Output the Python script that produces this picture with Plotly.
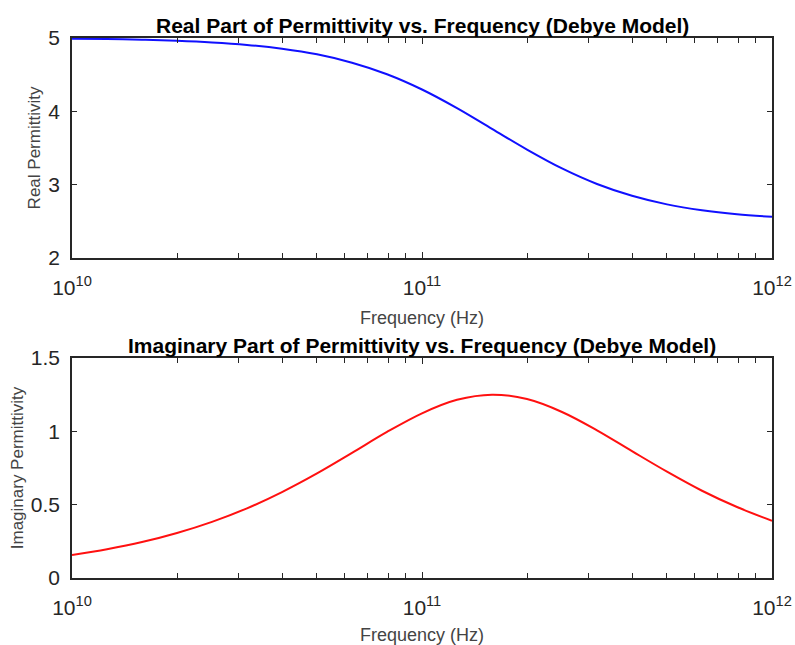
import plotly.graph_objects as go

# log10 of frequency (Hz)
log_freq = [10.0, 10.1, 10.2, 10.3, 10.4, 10.5, 10.6, 10.7, 10.8, 10.9, 11.0,
            11.1, 11.2, 11.3, 11.4, 11.5, 11.6, 11.7, 11.8, 11.9, 12.0]
real_perm = [4.99, 4.985, 4.976, 4.962, 4.94, 4.906, 4.854, 4.777, 4.663, 4.506, 4.298,
             4.044, 3.761, 3.478, 3.221, 3.009, 2.848, 2.731, 2.651, 2.597, 2.562]
imag_perm = [0.156, 0.196, 0.245, 0.307, 0.383, 0.475, 0.586, 0.713, 0.853, 0.996, 1.123,
             1.215, 1.25, 1.22, 1.132, 1.007, 0.865, 0.725, 0.595, 0.484, 0.39]

freq = [10 ** v for v in log_freq]

x_tick_vals = [1e10, 1e11, 1e12]
x_tick_text = ["10<sup>10</sup>", "10<sup>11</sup>", "10<sup>12</sup>"]
minor_vals = [m * 10 ** d for d in (10, 11) for m in range(2, 10)]

real_ticks = [2, 3, 4, 5]
imag_ticks = [0, 0.5, 1, 1.5]
imag_tick_text = ["0", "0.5", "1", "1.5"]

FONT = "Liberation Sans, Arial, sans-serif"
DARK = "#262626"
LABEL = "#444444"

fig = go.Figure()
fig.add_trace(go.Scatter(x=freq, y=real_perm, mode="lines", line=dict(color="#1010ff", width=2, shape="spline"),
                         xaxis="x", yaxis="y", showlegend=False))
fig.add_trace(go.Scatter(x=freq, y=imag_perm, mode="lines", line=dict(color="#ff1010", width=2, shape="spline"),
                         xaxis="x2", yaxis="y2", showlegend=False))

def xaxis_cfg(anchor):
    return dict(type="log", range=[10, 12], anchor=anchor, domain=[0, 1],
                tickvals=x_tick_vals, ticktext=x_tick_text,
                ticks="inside", ticklen=6, tickcolor=DARK, tickwidth=1,
                minor=dict(tickvals=minor_vals, ticks="inside", ticklen=5, tickcolor=DARK, tickwidth=1),
                showline=True, linecolor=DARK, linewidth=1.5, mirror="ticks",
                showgrid=False, zeroline=False, ticklabelstandoff=10,
                ticklabeloverflow="allow",
                tickfont=dict(family=FONT, size=21, color=DARK),
                title=dict(text="Frequency (Hz)", font=dict(family=FONT, size=18, color=LABEL), standoff=13))

def yaxis_cfg(anchor, dom, rng, vals, text, label):
    return dict(domain=dom, range=rng, anchor=anchor,
                tickvals=vals, ticktext=text,
                ticks="inside", ticklen=5, tickcolor=DARK, tickwidth=1,
                showline=True, linecolor=DARK, linewidth=1.5, mirror="ticks",
                showgrid=False, zeroline=False, ticklabelstandoff=6,
                tickfont=dict(family=FONT, size=21, color=DARK),
                title=dict(text=label, font=dict(family=FONT, size=17, color=LABEL), standoff=3))

fig.update_layout(
    width=795, height=645,
    paper_bgcolor="white", plot_bgcolor="white",
    margin=dict(l=72, r=23, t=38, b=67, autoexpand=False),
    xaxis=xaxis_cfg("y"),
    yaxis=yaxis_cfg("x", [0.5926, 1.0], [2, 5], real_ticks, [str(v) for v in real_ticks], "Real Permittivity"),
    xaxis2=xaxis_cfg("y2"),
    yaxis2=yaxis_cfg("x2", [0.0, 0.4074], [0, 1.5], imag_ticks, imag_tick_text, "Imaginary Permittivity"),
    annotations=[
        dict(text="<b>Real Part of Permittivity vs. Frequency (Debye Model)</b>", x=0.5, y=1.0,
             xref="paper", yref="paper", xanchor="center", yanchor="bottom", yshift=-1, showarrow=False,
             font=dict(family=FONT, size=21, color="#000000")),
        dict(text="<b>Imaginary Part of Permittivity vs. Frequency (Debye Model)</b>", x=0.5, y=0.4074,
             xref="paper", yref="paper", xanchor="center", yanchor="bottom", yshift=-1, showarrow=False,
             font=dict(family=FONT, size=21, color="#000000")),
    ],
)

fig.write_html("out.html", config={"displayModeBar": False},
               post_script="document.body.style.margin='0px';")
